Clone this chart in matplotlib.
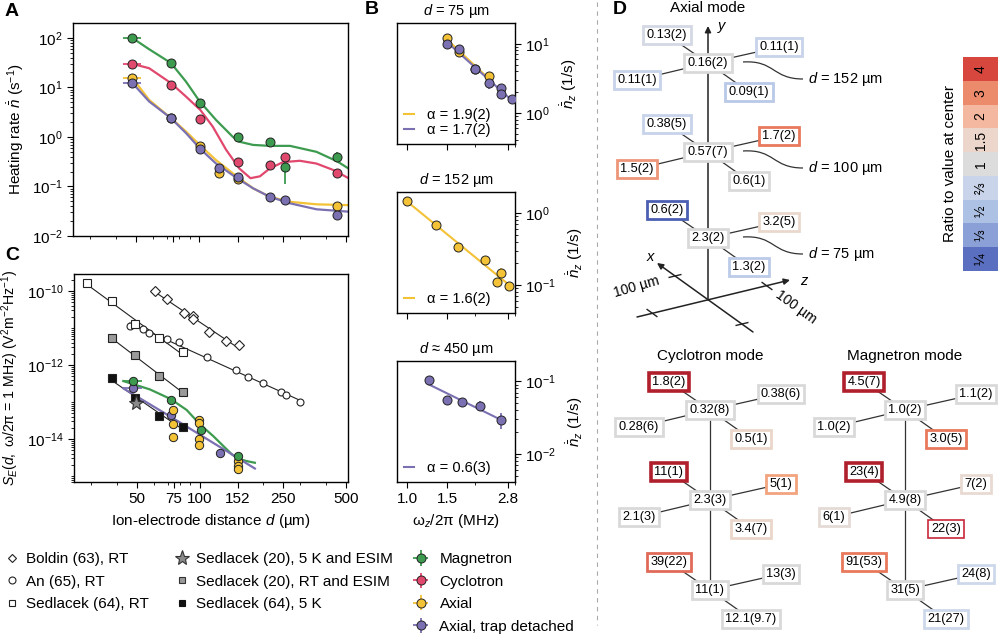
import numpy as np
import matplotlib
matplotlib.use('Agg')
import matplotlib.pyplot as plt
from matplotlib import font_manager
from matplotlib.ticker import LogLocator, NullFormatter, FixedLocator
from matplotlib.path import Path
from matplotlib.patches import PathPatch
from matplotlib.colors import ListedColormap
from matplotlib.lines import Line2D

plt.rcParams['font.family'] = ['Liberation Sans', 'DejaVu Sans']
plt.rcParams['mathtext.fontset'] = 'custom'
plt.rcParams['mathtext.rm'] = 'Liberation Sans'
plt.rcParams['mathtext.it'] = 'Liberation Sans:italic'
plt.rcParams['mathtext.bf'] = 'Liberation Sans:bold'
plt.rcParams['font.size'] = 11
plt.rcParams['axes.linewidth'] = 1.0
plt.rcParams['xtick.major.size'] = 4
plt.rcParams['ytick.major.size'] = 4
plt.rcParams['xtick.minor.size'] = 2.5
plt.rcParams['ytick.minor.size'] = 2.5

GREEN = '#3d9b4f'
RED = '#e1486d'
YELLOW = '#f3c236'
PURPLE = '#7b70b2'

# ---------------- panel A: heating rate vs distance ----------------
dA_mag = [48, 73, 101, 152, 216, 255, 454]
nA_mag = [99, 30.8, 4.9, 0.99, 0.78, 0.25, 0.40]
nA_mag_err = [[0, 0, 0, 0, 0, 0.14, 0.07], [0, 0, 0, 0, 0, 0.06, 0.09]]
dA_cyc = [48, 73, 101, 152, 216, 255, 454]
nA_cyc = [30, 11.2, 2.31, 0.31, 0.265, 0.39, 0.185]
nA_cyc_err = [[0, 0, 0, 0.03, 0, 0, 0.02], [0, 0, 0, 0.03, 0, 0, 0.02]]
dA_ax = [48, 73, 101, 124, 152, 454]
nA_ax = [15.4, 2.4, 0.67, 0.19, 0.142, 0.041]
nA_ax_err = [[0, 0, 0.05, 0.035, 0.02, 0.004], [0, 0, 0.05, 0.02, 0.02, 0.004]]
dA_td = [48, 73, 101, 124, 152, 216, 255, 454]
nA_td = [12.2, 2.39, 0.58, 0.24, 0.153, 0.062, 0.053, 0.027]
nA_td_err = [[0, 0, 0, 0, 0, 0, 0, 0.005], [0, 0, 0, 0, 0, 0, 0, 0.005]]
dA_xerr = [[4.7, 0, 0, 0, 0, 0, 0, 0], [4.6, 0, 0, 0, 0, 0, 0, 0]]

# model curves
dA_mag_fit = [48, 57.6, 73.2, 86.4, 100, 120, 144, 155, 180, 216, 270, 361, 454, 513]
nA_mag_fit = [99, 59, 31, 13, 5.3, 2.2, 1.01, 0.80, 0.69, 0.66, 0.66, 0.50, 0.32, 0.23]
dA_cyc_fit = [48, 57.6, 73.2, 86.4, 101, 115.8, 134, 155, 175, 194, 216, 250, 301, 361, 434, 513]
nA_cyc_fit = [29.8, 24.4, 12.2, 6.5, 3.5, 1.61, 0.55, 0.23, 0.147, 0.16, 0.23, 0.31, 0.33, 0.29, 0.215, 0.147]
dA_ax_fit = [48, 57.6, 73.2, 86.4, 101, 120, 151, 180, 216, 270, 361, 513]
nA_ax_fit = [15.4, 5.6, 2.39, 1.28, 0.67, 0.34, 0.158, 0.092, 0.062, 0.049, 0.0436, 0.042]
dA_td_fit = [48, 57.6, 73.2, 86.4, 101, 120, 151, 180, 216, 270, 361, 513]
nA_td_fit = [12.2, 5.2, 2.39, 1.19, 0.57, 0.29, 0.147, 0.092, 0.062, 0.0457, 0.0346, 0.031]

dist_ticks = [50, 75, 100, 152, 250, 500]

# ---------------- panel B: frequency scaling ----------------
fB1_ax = [1.505, 1.70, 2.0, 2.30]
nB1_ax = [12.1, 7.5, 4.3, 3.36]
fB1_td = [1.505, 1.70, 2.0, 2.30, 2.61, 2.61, 2.91]
nB1_td = [9.9, 8.4, 4.3, 2.75, 2.28, 1.88, 1.6]
nB1_td_err = [[0, 0.6, 0, 0.5, 0, 0, 0], [0, 0.9, 0, 0.3, 0, 0, 0]]
fB2_ax = [1.0, 1.34, 1.67, 2.21, 2.50, 2.60, 2.81]
nB2_ax = [1.48, 0.675, 0.34, 0.222, 0.110, 0.148, 0.097]
nB2_ax_err = [[0, 0, 0, 0, 0, 0.02, 0.012], [0, 0, 0, 0, 0, 0.025, 0.01]]
fB3_td = [1.25, 1.505, 1.75, 2.10, 2.60]
nB3_td = [0.104, 0.055, 0.0515, 0.046, 0.029]
nB3_td_err = [[0.006, 0.007, 0.006, 0.007, 0.007], [0.006, 0.007, 0.006, 0.007, 0.008]]
alpha_B1 = ['α = 1.9(2)', 'α = 1.7(2)']
alpha_B2 = ['α = 1.6(2)']
alpha_B3 = ['α = 0.6(3)']
freq_ticks = [1.0, 1.5, 2.8]
freq_minor = [2.0, 3.0]

# ---------------- panel C: electric field noise ----------------
d_boldin = [60.9, 69.8, 84.1, 92.9, 92.9, 110.4, 133.1, 154.0]
S_boldin = [1.02e-10, 6.0e-11, 2.6e-11, 2.1e-11, 1.75e-11, 7.6e-12, 4.5e-12, 3.5e-12]
d_an = [46.2, 53.6, 57.2, 69.8, 79.6, 107.6, 148, 170, 199.5, 243, 258, 301]
S_an = [1.13e-11, 9.2e-12, 7.5e-12, 5.0e-12, 4.1e-12, 1.6e-12, 7.3e-13, 4.8e-13, 3.3e-13, 1.9e-13, 1.6e-13, 1.0e-13]
d_sed64_rt = [28.9, 37.8, 48.9, 63.8, 82.7]
S_sed64_rt = [1.6e-10, 5.4e-11, 1.29e-11, 5.3e-12, 2.2e-12]
d_sed20_rt = [37.8, 48.9, 63.8, 82.7]
S_sed20_rt = [5.3e-12, 1.86e-12, 5.0e-13, 1.9e-13]
d_sed64_5k = [37.8, 48.9, 63.8, 82.7]
S_sed64_5k = [4.4e-13, 1.26e-13, 4.3e-14, 2.1e-14]
d_sed20_5k = [49.7]
S_sed20_5k = [9.2e-14]

dC_mag = [48, 73, 101, 152]
SC_mag = [3.7e-13, 1.13e-13, 1.75e-14, 3.47e-15]
dC_td = [48, 73, 124]
SC_td = [2.35e-13, 4.46e-14, 4.27e-15]
dC_ax = [74.5, 74.5, 74.5, 99.2, 99.2, 99.2, 99.2, 152, 152, 152]
SC_ax = [6.1e-14, 2.5e-14, 1.12e-14, 3.3e-14, 2.8e-14, 1.0e-14, 6.9e-15, 2.5e-15, 1.86e-15, 1.55e-15]
SC_ax_err = [[0, 0, 2.5e-15, 0, 0, 0, 0, 0, 0, 2e-16], [0, 0, 2.5e-15, 0, 0, 0, 0, 0, 0, 2e-16]]
dC_mag_fit = [43.0, 57.6, 72.6, 86.4, 100, 115.8, 129.3, 141.8, 152.5, 167.2, 183]
SC_mag_fit = [3.7e-13, 2.2e-13, 1.2e-13, 6.1e-14, 2.5e-14, 1.2e-14, 6.5e-15, 3.9e-15, 2.95e-15, 2.54e-15, 2.29e-15]
dC_td_fit = [43, 73, 124, 183]
SC_td_fit = [2.35e-13, 3.9e-14, 6.2e-15, 1.6e-15]
dC_xerr = [[5.0, 0, 0, 0], [5.0, 0, 0, 0]]

# ---------------- panel D: spatial maps ----------------
box_offsets = [(0, 0), (-41, -28), (71, -16), (-71, 17), (41, 29)]
GRAY = '#d9d9d9'
DKRED = '#b01f2c'
axial_labels = [['0.16(2)', '0.13(2)', '0.11(1)', '0.11(1)', '0.09(1)'],
                ['0.57(7)', '0.38(5)', '1.7(2)', '1.5(2)', '0.6(1)'],
                ['2.3(2)', '0.6(2)', '3.2(5)', None, '1.3(2)']]
axial_edges = [[GRAY, '#d3d8e4', '#c6d3ea', '#c6d3ea', '#b9c9e8'],
               [GRAY, '#c6d3ea', '#e8795c', '#ee967a', GRAY],
               [GRAY, '#4c5fb3', '#ead8cc', None, '#bccbe8']]
cyc_labels = [['0.32(8)', '1.8(2)', '0.38(6)', '0.28(6)', '0.5(1)'],
              ['2.3(3)', '11(1)', '5(1)', '2.1(3)', '3.4(7)'],
              ['11(1)', '39(22)', '13(3)', None, '12.1(9.7)']]
cyc_edges = [[GRAY, DKRED, GRAY, GRAY, '#ead6ca'],
             [GRAY, DKRED, '#f2a47f', GRAY, '#ead6ca'],
             [GRAY, '#e06a58', GRAY, None, GRAY]]
mag_labels = [['1.0(2)', '4.5(7)', '1.1(2)', '1.0(2)', '3.0(5)'],
              ['4.9(8)', '23(4)', '7(2)', '6(1)', '22(3)'],
              ['31(5)', '91(53)', '24(8)', None, '21(27)']]
mag_edges = [[GRAY, DKRED, GRAY, GRAY, '#e8795c'],
             [GRAY, DKRED, '#e8dad2', '#e5dad5', '#c8283a'],
             [GRAY, '#e8795c', '#cdd8ea', None, '#cdd8ea']]
axial_d_labels = ['152', '100', '75']
cb_labels = ['4', '3', '2', '1.5', '1', '⅔', '½', '⅓', '¼']
cb_colors = ['#d8473d', '#ec8a6c', '#f4b8a0', '#ecd6cb', '#dcdcdc', '#c9d4ea', '#adc1e5', '#8aa0d6', '#5a6fbf']

names = {f.name for f in font_manager.fontManager.ttflist}
if 'Liberation Sans Narrow' in names:
    box_font, box_size = ['Liberation Sans Narrow', 'DejaVu Sans'], 11
else:
    box_font, box_size = ['Liberation Sans', 'DejaVu Sans'], 9.2


def px(l, t, r, b):
    return [l / 1000, 1 - b / 635, (r - l) / 1000, (b - t) / 635]


def pts(ax, d, v, c, yerr=None, xerr=None, ms=6.5):
    return ax.errorbar(d, v, yerr=yerr, xerr=xerr, fmt='o', ms=ms, mfc=c, mec='#222222',
                       mew=0.7, ecolor=c, elinewidth=1.3, capsize=0, zorder=4)


fig = plt.figure(figsize=(10, 6.35), dpi=100)

# ---- A
axA = fig.add_axes(px(73, 23, 348, 236))
axA.plot(dA_mag_fit, nA_mag_fit, color=GREEN, lw=1.6, zorder=2)
axA.plot(dA_cyc_fit, nA_cyc_fit, color=RED, lw=1.6, zorder=2)
axA.plot(dA_ax_fit, nA_ax_fit, color=YELLOW, lw=1.6, zorder=2)
axA.plot(dA_td_fit, nA_td_fit, color=PURPLE, lw=1.6, zorder=2)
h_mag = pts(axA, dA_mag, nA_mag, GREEN, nA_mag_err, [e[:7] for e in dA_xerr])
h_cyc = pts(axA, dA_cyc, nA_cyc, RED, nA_cyc_err, [e[:7] for e in dA_xerr])
h_ax = pts(axA, dA_ax, nA_ax, YELLOW, nA_ax_err, [e[:6] for e in dA_xerr])
h_td = pts(axA, dA_td, nA_td, PURPLE, nA_td_err, dA_xerr)
axA.set_ylabel(r'Heating rate $\dot{\bar{n}}$ (s$^{-1}$)')

# ---- C
axC = fig.add_axes(px(74, 274, 348, 482))
lit = [(d_boldin, S_boldin, 'D', 'white', 4.8),
       (d_an, S_an, 'o', 'white', 5),
       (d_sed64_rt, S_sed64_rt, 's', 'white', 5.5),
       (d_sed20_rt, S_sed20_rt, 's', '#9a9a9a', 5.5),
       (d_sed64_5k, S_sed64_5k, 's', '#111111', 5.5)]
for d, s, m, fc, ms in lit:
    p = np.polyfit(np.log10(d), np.log10(s), 1)
    xx = np.array([min(d), max(d)])
    axC.plot(xx, 10 ** np.polyval(p, np.log10(xx)), color='#222222', lw=0.8, zorder=2)
    axC.plot(d, s, ls='none', marker=m, ms=ms, mfc=fc, mec='#222222', mew=0.8, zorder=3)
axC.plot(d_sed20_5k, S_sed20_5k, ls='none', marker='*', ms=11, mfc='#8a8a8a', mec='#333333', mew=0.8, zorder=3)
axC.plot(dC_mag_fit, SC_mag_fit, color=GREEN, lw=1.6, zorder=2)
axC.plot(dC_td_fit, SC_td_fit, color=PURPLE, lw=1.6, zorder=2)
pts(axC, dC_td, SC_td, PURPLE, xerr=[e[:3] for e in dC_xerr], ms=6)
pts(axC, dC_ax, SC_ax, YELLOW, yerr=SC_ax_err, ms=6)
pts(axC, dC_mag, SC_mag, GREEN, xerr=dC_xerr, ms=6)
axC.set_xlabel(r'Ion-electrode distance $d$ (µm)')
axC.set_ylabel(r'$S_E(d,$ ω/2π = 1 MHz) (V$^{2}$m$^{-2}$Hz$^{-1}$)', fontsize=10.2)

for ax in (axA, axC):
    ax.set_xscale('log')
    ax.set_yscale('log')
    ax.set_xlim(25, 510)
    ax.xaxis.set_major_locator(FixedLocator(dist_ticks))
    ax.xaxis.set_minor_locator(LogLocator(base=10, subs=np.arange(2, 10) * 1.0, numticks=20))
    ax.xaxis.set_minor_formatter(NullFormatter())
    ax.yaxis.set_minor_formatter(NullFormatter())
axA.set_xticklabels([])
axC.set_xticklabels([str(t) for t in dist_ticks])
axA.set_ylim(1e-2, 10 ** 2.3)
axA.yaxis.set_minor_locator(LogLocator(base=10, subs=np.arange(2, 10) * 1.0, numticks=20))
axC.set_ylim(10 ** -15.16, 10 ** -9.54)
axC.set_yticks([1e-14, 1e-12, 1e-10])
axC.yaxis.set_minor_locator(LogLocator(base=10, subs=np.arange(1, 10) * 1.0, numticks=40))

# ---- B
axB = [fig.add_axes(px(397, 23, 515, 144)), fig.add_axes(px(397, 192, 515, 313)),
       fig.add_axes(px(397, 361, 515, 482))]
series_B = [[(fB1_ax, nB1_ax, None, YELLOW), (fB1_td, nB1_td, nB1_td_err, PURPLE)],
            [(fB2_ax, nB2_ax, nB2_ax_err, YELLOW)],
            [(fB3_td, nB3_td, nB3_td_err, PURPLE)]]
alphas = [alpha_B1, alpha_B2, alpha_B3]
titles = [r'$d$ = 75 µm', r'$d$ = 152 µm', r'$d$ ≈ 450 µm']
ylims = [(10 ** -0.45, 10 ** 1.3), (10 ** -1.39, 10 ** 0.29), (10 ** -2.39, 10 ** -0.72)]
for i, ax in enumerate(axB):
    handles = []
    for f, n, err, c in series_B[i]:
        p = np.polyfit(np.log10(f), np.log10(n), 1)
        xx = np.array([min(f), max(f)])
        ax.plot(xx, 10 ** np.polyval(p, np.log10(xx)), color=c, lw=1.5, zorder=2)
        pts(ax, f, n, c, yerr=err)
        handles.append(Line2D([], [], color=c, lw=1.5))
    ax.legend(handles, alphas[i], loc='lower left', frameon=False, handlelength=0.7,
              handletextpad=0.9, labelspacing=0.1, borderaxespad=0.05, fontsize=10.5)
    ax.set_xscale('log')
    ax.set_yscale('log')
    ax.set_xlim(0.9, 3.0)
    ax.set_ylim(*ylims[i])
    ax.xaxis.set_major_locator(FixedLocator(freq_ticks))
    ax.xaxis.set_minor_locator(FixedLocator(freq_minor))
    ax.xaxis.set_minor_formatter(NullFormatter())
    ax.yaxis.set_minor_locator(LogLocator(base=10, subs=np.arange(2, 10) * 1.0, numticks=20))
    ax.yaxis.set_minor_formatter(NullFormatter())
    ax.yaxis.tick_right()
    ax.yaxis.set_label_position('right')
    ax.set_ylabel(r'$\dot{\bar{n}}_z$ (1/s)', labelpad=6)
    ax.set_title(titles[i], fontsize=10.5, pad=6)
    if i < 2:
        ax.set_xticklabels([])
    else:
        ax.set_xticklabels(['%.1f' % t for t in freq_ticks])
        ax.set_xlabel('ω$_z$/2π (MHz)')

# ---- legend below A/C
leg_kw = dict(loc='upper left', frameon=False, borderpad=0.2, borderaxespad=0, handlelength=1.0,
              labelspacing=0.55, fontsize=11)
col1 = [Line2D([], [], ls='none', marker=m, ms=ms, mfc='white', mec='#222222', mew=0.8)
        for m, ms in [('D', 4.2), ('o', 5), ('s', 5)]]
col2 = [Line2D([], [], ls='none', marker='*', ms=11, mfc='#8a8a8a', mec='#333333', mew=0.8),
        Line2D([], [], ls='none', marker='s', ms=5, mfc='#9a9a9a', mec='#333333', mew=0.8),
        Line2D([], [], ls='none', marker='s', ms=5, mfc='#111111', mec='#111111', mew=0.8)]
fig.legend(col1, ['Boldin (63), RT', 'An (65), RT', 'Sedlacek (64), RT'],
           bbox_to_anchor=(0.001, 0.135), handletextpad=0.44, **leg_kw)
fig.legend(col2, ['Sedlacek (20), 5 K and ESIM', 'Sedlacek (20), RT and ESIM', 'Sedlacek (64), 5 K'],
           bbox_to_anchor=(0.1713, 0.135), handletextpad=0.44, **leg_kw)
fig.legend([h_mag, h_cyc, h_ax, h_td], ['Magnetron', 'Cyclotron', 'Axial', 'Axial, trap detached'],
           bbox_to_anchor=(0.410, 0.135), handletextpad=0.73, **leg_kw)

# ---- D
axD = fig.add_axes(px(580, 0, 1000, 635))
axD.set_xlim(580, 1000)
axD.set_ylim(635, 0)
axD.axis('off')
axD.plot([597, 597], [2, 625], ls=(0, (4, 4)), color='#aaaaaa', lw=0.8)


def draw_mode(cx, levels, labels, edges):
    for y, labs, ecs in zip(levels, labels, edges):
        for (dx, dy), lab, ec in zip(box_offsets, labs, ecs):
            if lab is None:
                continue
            if (dx, dy) != (0, 0):
                axD.plot([cx, cx + dx], [y, y + dy], color='#333333', lw=0.9, zorder=1)
            lw = 2.6 if ec == DKRED else (1.2 if ec == '#c8283a' else 2.0)
            axD.text(cx + dx, y + dy, lab, ha='center', va='center', family=box_font, fontsize=box_size,
                     zorder=3, bbox=dict(boxstyle='square,pad=0.26', fc='white', ec=ec, lw=lw))


# axial coordinate frame
arrow_kw = dict(arrowstyle='-|>', color='#222222', lw=1.1, mutation_scale=9, shrinkA=0, shrinkB=0)
axD.annotate('', xy=(708, 26), xytext=(708, 300), arrowprops=arrow_kw, zorder=1)
axD.annotate('', xy=(657, 263), xytext=(753, 332), arrowprops=arrow_kw)
axD.annotate('', xy=(790, 280), xytext=(637, 317), arrowprops=arrow_kw)
for (tx, ty), (ux, uy) in [((675, 276), (0.972, -0.235)), ((742, 324), (0.972, -0.235)),
                           ((652, 313), (0.813, 0.585)), ((767, 286), (0.813, 0.585))]:
    axD.plot([tx - 6 * ux, tx + 6 * ux], [ty - 6 * uy, ty + 6 * uy], color='#222222', lw=1.0)
axD.text(718, 26, 'y', style='italic', fontsize=10.5, va='center')
axD.text(650, 257, 'x', style='italic', fontsize=10.5, ha='center', va='center')
axD.text(800, 281, 'z', style='italic', fontsize=10.5, va='center')
axD.text(637, 287, '100 µm', rotation=16, ha='center', va='center', fontsize=10)
axD.text(796, 307, '100 µm', rotation=-36, ha='center', va='center', fontsize=10)

axial_y = [63, 152, 238]
draw_mode(708, axial_y, axial_labels, axial_edges)
for y, lab in zip(axial_y, axial_d_labels):
    verts = [(743, y - 1), (775, y - 3), (772, y + 16), (803, y + 16)]
    axD.add_patch(PathPatch(Path(verts, [Path.MOVETO, Path.CURVE4, Path.CURVE4, Path.CURVE4]),
                            fc='none', ec='#333333', lw=0.9))
    axD.text(808, y + 16, r'$d$ = %s µm' % lab, va='center', fontsize=10.5)
axD.text(708, 8, 'Axial mode', ha='center', va='center', fontsize=11)

cm_y = [410, 500, 590]
axD.plot([710, 710], cm_y[::2], color='#333333', lw=0.9, zorder=1)
axD.plot([905, 905], cm_y[::2], color='#333333', lw=0.9, zorder=1)
draw_mode(710, cm_y, cyc_labels, cyc_edges)
draw_mode(905, cm_y, mag_labels, mag_edges)
axD.text(710, 356, 'Cyclotron mode', ha='center', va='center', fontsize=11)
axD.text(905, 356, 'Magnetron mode', ha='center', va='center', fontsize=11)

# colour scale
axCB = fig.add_axes(px(963, 57, 998, 271))
axCB.imshow(np.arange(len(cb_colors)).reshape(-1, 1), cmap=ListedColormap(cb_colors), aspect='auto')
for i, lab in enumerate(cb_labels):
    axCB.text(0, i, lab, rotation=90, ha='center', va='center', fontsize=10)
axCB.set_xticks([])
axCB.set_yticks([])
for s in axCB.spines.values():
    s.set_visible(False)
axCB.set_ylabel('Ratio to value at center', fontsize=11, labelpad=4)

# panel letters
for lab, x, y in [('A', 12, 12), ('B', 372, 10), ('C', 12, 256), ('D', 620, 10)]:
    fig.text(x / 1000, 1 - y / 635, lab, fontsize=14, fontweight='bold', ha='center', va='center')

fig.savefig('out.png', dpi=100)
